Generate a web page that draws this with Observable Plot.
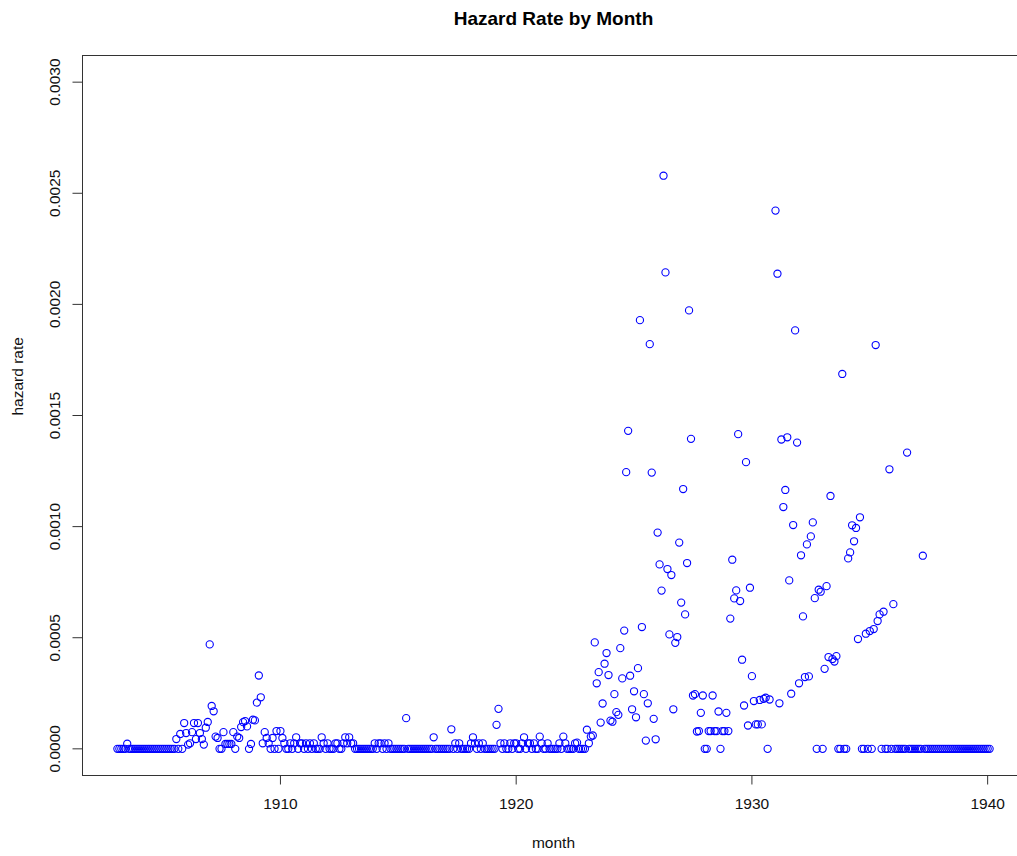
<!DOCTYPE html>
<html><head><meta charset="utf-8">
<script src="https://cdn.jsdelivr.net/npm/d3@7"></script>
<script src="https://cdn.jsdelivr.net/npm/@observablehq/plot@0.6"></script>
<style>
html,body{margin:0;padding:0;overflow:hidden;background:#fff;}
#chart{width:1017px;height:856px;overflow:hidden;}
#chart svg{display:block;overflow:hidden;}
</style></head><body><div id="chart"></div>
<script>
// Monthly hazard rate, first month = startYear + 1/12
const startYear = 1903;
const hazardA = [0,0,0,0,0,0.000023,0,0,0,0, 0,0,0,0,0,0,0,0,0,0, 0,0,0,0,0,0,0,0,0,0,
  0.000044,0,0.000067,0,0.000116,0.000071,0.000019,0.000025,0.000075,0.000116,
  0.000044,0.000116,0.000071,0.000044,0.000019,0.000095,0.000121,0.00047,0.000193,0.000169,
  0.000055,0.000049,0,0,0.000075,0.000022,0.000022,0.000022,0.000022,0.000075];
const hazardB = [0,0.000055,0.000049,0.000098,0.00012,0.000125,0.000101,0,0.000022,0.000131,
  0.000128,0.000208,0.00033,0.000232,0.000025,0.000075,0.000049,0.000025,0,0.000049,
  0,0.00008,0,0.00008,0.000049,0.000025,0,0,0.000025,0,
  0.000025,0.000052,0,0.000025,0.000025,0,0.000025,0,0.000025,0,
  0.000025,0,0,0,0.000052,0.000025,0,0.000025,0,0,
  0,0.000025,0.000025,0,0,0.000025,0.000052,0.000025,0.000052,0.000025];
const hazardC = [0.000025,0,0,0,0,0,0,0,0,0,
  0,0.000025,0,0.000025,0.000025,0,0.000025,0,0.000025,0,
  0,0,0,0,0,0,0,0.000138,0,0,
  0,0,0,0,0,0,0,0,0,0,
  0,0.000052,0,0,0,0,0,0,0,0,
  0.000088,0,0.000025,0,0.000025,0,0,0,0,0];
const hazardD = [0.000025,0.000052,0.000025,0,0.000025,0,0.000025,0,0,0,
  0,0,0,0.000108,0.00018,0.000025,0,0.000025,0,0,
  0.000025,0,0.000025,0.000025,0,0,0.000025,0.000052,0,0.000025,
  0.000025,0,0.000025,0,0,0.000055,0.000025,0,0,0.000025,
  0,0,0,0,0,0.000025,0,0.000055,0.000025,0,
  0,0,0,0.000025,0.000028,0,0,0,0,0.000086];
const hazardE = [0.000025,0.000055,0.00006,0.000479,0.000295,0.000345,0.000118,0.000204,0.000383,0.000431,
  0.000332,0.000127,0.000122,0.000246,0.000165,0.000153,0.000453,0.000317,0.000532,0.001245,
  0.001431,0.000329,0.000178,0.000259,0.000142,0.000363,0.001929,0.000548,0.000246,0.000037,
  0.000205,0.001821,0.001243,0.000135,0.000043,0.000973,0.00083,0.000712,0.002579,0.002144,
  0.000809,0.000515,0.000782,0.000178,0.000477,0.000503,0.000928,0.000658,0.001169,0.000605,
  0.000836,0.001973,0.001395,0.00024,0.000246,0.000078,0.00008,0.000162,0.00024,0];
const hazardF = [0,0.00008,0.00008,0.00024,0.00008,0.00008,0.000168,0,0.00008,0.00008,
  0.000162,0.00008,0.000586,0.000851,0.000677,0.000713,0.001416,0.000665,0.000401,0.000195,
  0.00129,0.000105,0.000725,0.000327,0.000215,0.00011,0.00011,0.00022,0.00011,0.000225,
  0.00023,0,0.000222,null,null,0.002422,0.002138,0.000205,0.001392,0.001088,
  0.001165,0.001402,0.000758,0.000248,0.001007,0.001883,0.001378,0.000295,0.000871,0.000596,
  0.000323,0.00092,0.000326,0.000956,0.001019,0.000678,0,0.000716,0.000707,0];
const hazardG = [0.00036,0.000732,0.000413,0.001138,0.000404,0.000393,0.000417,0,0,0.001687,
  0,0,0.000857,0.000884,0.001006,0.000934,0.000994,0.000494,0.001042,0,
  0,0.000518,0,0.00053,0,0.000539,0.001817,0.000575,0.000605,0,
  0.000617,0,0,0.001258,0,0.000651,0,0,0,0,
  0,0,0.001333,0,0,0,0,0,0,0,
  0.000869,0,0,0,0,0,0,0,0,0];
const hazardH = [0,0,0,0,0,0,0,0,0,0, 0,0,0,0,0,0,0,0,0,0, 0,0,0,0,0];

const xTicks = [1910, 1920, 1930, 1940];
const yTicks = [0, 0.0005, 0.001, 0.0015, 0.002, 0.0025, 0.003];
const yLimits = [0, 0.003];
const titleText = "Hazard Rate by Month";
const xLabel = "month";
const yLabel = "hazard rate";

const hazard = [].concat(hazardA, hazardB, hazardC, hazardD, hazardE, hazardF, hazardG, hazardH);
const data = hazard.map((v, i) => ({month: startYear + (i + 1) / 12, rate: v}));

// R-style 4% axis expansion
const xMin = d3.min(data, d => d.month), xMax = d3.max(data, d => d.month);
const xPad = 0.04 * (xMax - xMin);
const yPad = 0.04 * (yLimits[1] - yLimits[0]);

const font = "'Liberation Sans', Arial, Helvetica, sans-serif";

const chart = Plot.plot({
  width: 1017,
  height: 856,
  marginTop: 55,
  marginBottom: 81,
  marginLeft: 82,
  marginRight: -7,
  style: {fontFamily: font, fontSize: "15.5px", background: "#fff", color: "#000", overflow: "hidden"},
  x: {domain: [xMin - xPad, xMax + xPad]},
  y: {domain: [yLimits[0] - yPad, yLimits[1] + yPad]},
  marks: [
    Plot.frame({stroke: "#333", strokeWidth: 1}),
    Plot.axisX({ticks: xTicks, tickSize: 9.5, tickFormat: () => "", label: null, stroke: "#333"}),
    Plot.axisY({ticks: yTicks, tickSize: 9.5, tickFormat: () => "", label: null, stroke: "#333"}),
    Plot.text(xTicks, {x: d => d, text: d => String(d), frameAnchor: "bottom", dy: 29, lineAnchor: "middle", fontSize: 15.5, fill: "#111"}),
    Plot.text(yTicks, {y: d => d, text: d => d3.format(".4f")(d), frameAnchor: "left", dx: -27, rotate: -90, textAnchor: "middle", lineAnchor: "middle", fontSize: 15.5, fill: "#111"}),
    Plot.text([xLabel], {frameAnchor: "bottom", dy: 68, lineAnchor: "middle", fontSize: 15.5, fill: "#111"}),
    Plot.text([yLabel], {frameAnchor: "left", dx: -64, rotate: -90, lineAnchor: "middle", fontSize: 15.5, fill: "#111"}),
    Plot.text([titleText], {frameAnchor: "top", dy: -37, lineAnchor: "middle", fontSize: 19, fontWeight: "bold", fill: "#000"}),
    Plot.dot(data, {x: "month", y: "rate", r: 3.6, stroke: "#0000ff", strokeWidth: 1.1, fill: "none"})
  ]
});
document.getElementById("chart").appendChild(chart);
</script></body></html>
